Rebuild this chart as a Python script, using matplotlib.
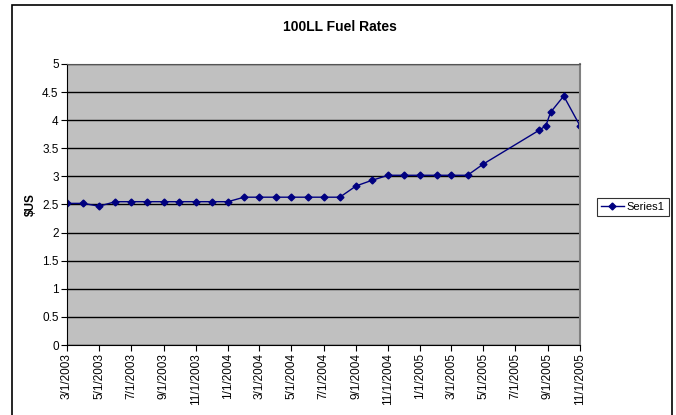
import matplotlib
matplotlib.use("Agg")
import matplotlib.pyplot as plt
from matplotlib.patches import Rectangle
from datetime import date

plt.rcParams['font.family'] = ['Liberation Sans', 'DejaVu Sans']

dates = [
    "2003-03-01", "2003-04-01", "2003-05-01", "2003-06-01", "2003-07-01", "2003-08-01",
    "2003-09-01", "2003-10-01", "2003-11-01", "2003-12-01", "2004-01-01", "2004-02-01",
    "2004-03-01", "2004-04-01", "2004-05-01", "2004-06-01", "2004-07-01", "2004-08-01",
    "2004-09-01", "2004-10-01", "2004-11-01", "2004-12-01", "2005-01-01", "2005-02-01",
    "2005-03-01", "2005-04-01", "2005-05-01", "2005-08-15", "2005-08-28", "2005-09-06",
    "2005-10-01", "2005-11-01",
]
rates = [
    2.52, 2.52, 2.47, 2.55, 2.55, 2.55,
    2.55, 2.55, 2.55, 2.55, 2.55, 2.63,
    2.63, 2.63, 2.63, 2.63, 2.63, 2.63,
    2.83, 2.93, 3.02, 3.02, 3.02, 3.02,
    3.02, 3.02, 3.22, 3.82, 3.90, 4.14,
    4.43, 3.90,
]
tick_dates = [
    "2003-03-01", "2003-05-01", "2003-07-01", "2003-09-01", "2003-11-01",
    "2004-01-01", "2004-03-01", "2004-05-01", "2004-07-01", "2004-09-01", "2004-11-01",
    "2005-01-01", "2005-03-01", "2005-05-01", "2005-07-01", "2005-09-01", "2005-11-01",
]
tick_labels = [
    "3/1/2003", "5/1/2003", "7/1/2003", "9/1/2003", "11/1/2003",
    "1/1/2004", "3/1/2004", "5/1/2004", "7/1/2004", "9/1/2004", "11/1/2004",
    "1/1/2005", "3/1/2005", "5/1/2005", "7/1/2005", "9/1/2005", "11/1/2005",
]
y_ticks = [0, 0.5, 1, 1.5, 2, 2.5, 3, 3.5, 4, 4.5, 5]
y_labels = ["0", "0.5", "1", "1.5", "2", "2.5", "3", "3.5", "4", "4.5", "5"]

x = [date.fromisoformat(d) for d in dates]
xt = [date.fromisoformat(d) for d in tick_dates]

W, H = 676, 415
fig = plt.figure(figsize=(W / 100, H / 100), dpi=100)
fig.patch.set_facecolor("white")

# outer chart border
fig.patches.append(Rectangle((12 / W, -0.05), (672 - 12) / W, (H - 5) / H + 0.05,
                             transform=fig.transFigure, fill=False,
                             edgecolor="black", linewidth=1.2))

ax = fig.add_axes([67 / W, (H - 345) / H, (580 - 67) / W, (345 - 64) / H])
ax.set_facecolor("#C0C0C0")
ax.plot(x, rates, color="#000080", linewidth=1.0, marker="D", markersize=3.5,
        markerfacecolor="#000080", markeredgecolor="#000080", label="Series1")

ax.set_xlim(xt[0], xt[-1])
ax.set_ylim(0, 5)
ax.set_yticks(y_ticks)
ax.set_yticklabels(y_labels, fontsize=8.5)
ax.set_xticks(xt)
ax.set_xticklabels(tick_labels, rotation=90, fontsize=8.5)
ax.yaxis.grid(True, color="black", linewidth=1.0)
ax.set_axisbelow(True)
ax.tick_params(axis="both", direction="out", length=4, width=0.8, pad=2)

ax.spines["top"].set_color("#555555")
ax.spines["right"].set_color("#808080")
ax.spines["right"].set_linewidth(1.5)
ax.spines["left"].set_color("black")
ax.spines["bottom"].set_color("black")

ax.set_ylabel("$US", fontsize=8.5, fontweight="bold")
ax.yaxis.set_label_coords((37 - 67) / (580 - 67), 0.5)
fig.text(340 / W, 1 - 27 / H, "100LL Fuel Rates", ha="center", va="center",
         fontsize=10, fontweight="bold")

leg = fig.legend(loc="center", bbox_to_anchor=(633 / W, 1 - 207 / H), fontsize=8,
                 frameon=True, fancybox=False, edgecolor="black", handlelength=2.0,
                 borderpad=0.35, handletextpad=0.3, borderaxespad=0)
leg.get_frame().set_linewidth(0.8)

fig.savefig("out.png", dpi=100)
